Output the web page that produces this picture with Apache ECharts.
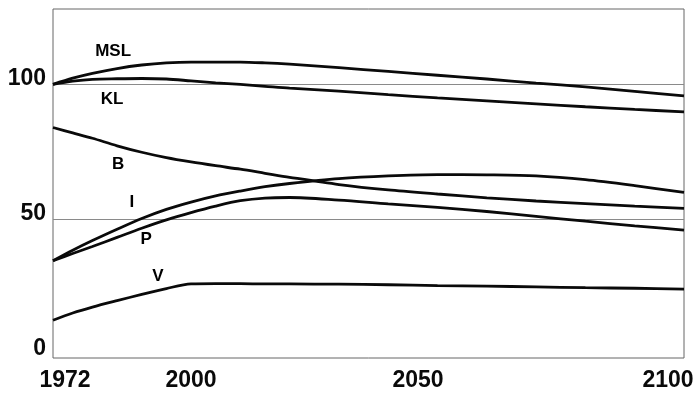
<!DOCTYPE html>
<html>
<head>
<meta charset="utf-8">
<script src="https://cdn.jsdelivr.net/npm/echarts@6/dist/echarts.min.js"></script>
<style>
html,body{margin:0;padding:0;background:#fff;}
#chart{width:697px;height:393px;}
</style>
</head>
<body>
<div id="chart"></div>
<script>
// ---- data ----
var years = [1972,1976,1980,1985,1990,1995,2000,2005,2010,2015,2020,2030,2040,2050,2060,2070,2080,2090,2100];
var MSL = [100,102.3,104.1,105.9,107.2,108.0,108.3,108.3,108.3,108.0,107.5,106.2,104.8,103.4,102.0,100.5,99.1,97.4,95.7];
var KL  = [100,101.2,101.9,102.1,102.2,102.0,101.3,100.6,100.0,99.3,98.6,97.5,96.2,95.0,93.9,92.8,91.7,90.7,89.8];
var B   = [84.0,82.0,80.0,77.2,74.8,72.8,71.2,69.8,68.5,67.0,65.5,62.8,60.8,59.3,57.9,56.7,55.7,54.8,54.0];
var I   = [34.5,38.4,42.0,46.2,50.2,53.6,56.3,58.6,60.4,62.0,63.2,65.0,66.0,66.5,66.4,66.0,64.6,62.4,59.9];
var P   = [34.5,37.2,39.8,43.2,46.6,49.7,52.4,54.8,56.8,57.8,58.0,57.0,55.6,54.3,52.8,51.0,49.2,47.5,45.9];
var V   = [12.4,15.1,17.3,19.7,22.0,24.2,25.9,26.0,26.0,25.9,25.9,25.8,25.6,25.3,25.1,24.8,24.5,24.3,24.0];

var xTicks = [1972, 2000, 2050, 2100];
var yTicks = [0, 50, 100];
var gridValues = [50, 100];

// series label texts and their anchor points (data coordinates)
var labelNames  = ['MSL', 'KL', 'B', 'I', 'P', 'V'];
var labelYears  = [1984.2, 1984.0, 1985.2, 1988.0, 1990.9, 1993.3];
var labelValues = [112.4, 94.5, 70.4, 56.3, 42.6, 28.8];

var seriesNames = ['MSL','KL','B','I','P','V'];
var seriesValues = [MSL, KL, B, I, P, V];

// ---- chart ----
var FONT = '"Liberation Sans", Arial, Helvetica, sans-serif';
function pairs(vals){ return years.map(function(y,i){ return [y, vals[i]]; }); }

var series = seriesValues.map(function(vals, k){
  var s = {
    name: seriesNames[k],
    type: 'line',
    data: pairs(vals),
    smooth: 0.3,
    symbol: 'none',
    silent: true,
    lineStyle: { color: '#0a0a0a', width: 2.8 },
    z: 3
  };
  if (k === 0) {
    s.markLine = {
      silent: true,
      symbol: ['none','none'],
      label: { show: false },
      lineStyle: { color: '#8a8a8a', width: 1.2, type: 'solid' },
      data: gridValues.map(function(v){ return { yAxis: v }; }),
      z: 1
    };
  }
  return s;
});

series.push({
  name: 'labels',
  type: 'scatter',
  symbolSize: 1,
  silent: true,
  itemStyle: { opacity: 1, color: 'rgba(0,0,0,0)' },
  data: labelNames.map(function(n,i){ return { name: n, value: [labelYears[i], labelValues[i]] }; }),
  label: {
    show: true,
    position: 'inside',
    formatter: function(p){ return p.name; },
    fontFamily: FONT,
    fontWeight: 'bold',
    fontSize: 17,
    color: '#000',
    opacity: 1,
    textBorderWidth: 0
  },
  z: 4
});

var xRich = {
  a: { fontFamily: FONT, fontWeight: 'bold', fontSize: 23, color: '#0a0a0a', padding: [0,0,0,24] },
  b: { fontFamily: FONT, fontWeight: 'bold', fontSize: 23, color: '#0a0a0a', padding: [0,0,0,0] },
  c: { fontFamily: FONT, fontWeight: 'bold', fontSize: 23, color: '#0a0a0a', padding: [0,39,0,0] },
  d: { fontFamily: FONT, fontWeight: 'bold', fontSize: 23, color: '#0a0a0a', padding: [0,32,0,0] }
};
var xKey = { 1972: 'a', 2000: 'b', 2050: 'c', 2100: 'd' };

var option = {
  animation: false,
  backgroundColor: '#fff',
  grid: { left: 53, top: 9, right: 13, bottom: 35, show: true, borderColor: '#666', borderWidth: 1, backgroundColor: 'transparent' },
  xAxis: {
    type: 'value',
    min: 1972,
    max: 2100,
    axisLine: { show: false },
    axisTick: { show: false },
    splitLine: { show: false },
    axisLabel: {
      customValues: xTicks,
      margin: 11,
      showMinLabel: true,
      showMaxLabel: true,
      formatter: function(v){ return '{' + (xKey[v] || 'b') + '|' + v + '}'; },
      rich: xRich
    }
  },
  yAxis: {
    type: 'value',
    min: -1.6,
    max: 128,
    axisLine: { show: false },
    axisTick: { show: false },
    splitLine: { show: false },
    axisLabel: {
      customValues: yTicks,
      margin: 7,
      formatter: function(v){ return '{y|' + v + '}'; },
      rich: { y: { fontFamily: FONT, fontWeight: 'bold', fontSize: 23, color: '#0a0a0a', padding: [0,0,11,0] } }
    }
  },
  series: series
};

var chart = echarts.init(document.getElementById('chart'), null, { renderer: 'canvas' });
chart.setOption(option);
</script>
</body>
</html>
